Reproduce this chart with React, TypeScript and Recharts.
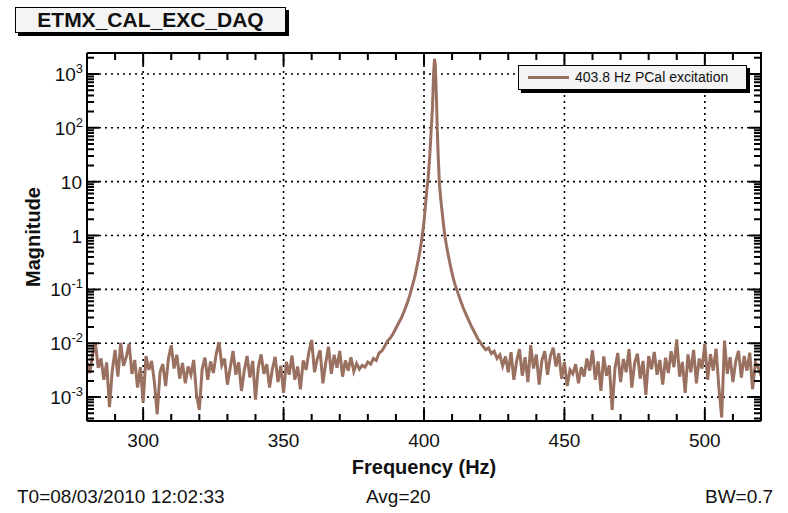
import { LineChart, Line, XAxis, YAxis, CartesianGrid } from "recharts";

// spectrum bins (Hz) and magnitude
const freqHz = [
  280, 281, 282, 283, 284, 285, 286, 287, 288, 289,
  290, 291, 292, 293, 294, 295, 296, 297, 298, 299,
  300, 301, 302, 303, 304, 305, 306, 307, 308, 309,
  310, 311, 312, 313, 314, 315, 316, 317, 318, 319,
  320, 321, 322, 323, 324, 325, 326, 327, 328, 329,
  330, 331, 332, 333, 334, 335, 336, 337, 338, 339,
  340, 341, 342, 343, 344, 345, 346, 347, 348, 349,
  350, 351, 352, 353, 354, 355, 356, 357, 358, 359,
  360, 361, 362, 363, 364, 365, 366, 367, 368, 369,
  370, 371, 372, 373, 374, 375, 376, 377, 378, 379,
  380, 381, 382, 383, 384, 385, 386, 387, 388, 389,
  390, 391, 392, 393, 394,
  395, 395.5, 396, 396.5, 397, 397.5, 398, 398.5, 399, 399.5,
  400, 400.5, 401, 401.5, 402, 402.5, 403, 403.25, 403.5, 403.75,
  404, 404.25, 404.5, 404.75, 405, 405.5, 406, 406.5, 407, 407.5,
  408, 408.5, 409, 409.5, 410, 410.5, 411, 411.5, 412,
  413, 414, 415, 416, 417, 418, 419,
  420, 421, 422, 423, 424, 425, 426, 427, 428, 429,
  430, 431, 432, 433, 434, 435, 436, 437, 438, 439,
  440, 441, 442, 443, 444, 445, 446, 447, 448, 449,
  450, 451, 452, 453, 454, 455, 456, 457, 458, 459,
  460, 461, 462, 463, 464, 465, 466, 467, 468, 469,
  470, 471, 472, 473, 474, 475, 476, 477, 478, 479,
  480, 481, 482, 483, 484, 485, 486, 487, 488, 489,
  490, 491, 492, 493, 494, 495, 496, 497, 498, 499,
  500, 501, 502, 503, 504, 505, 506, 507, 508, 509,
  510, 511, 512, 513, 514, 515, 516, 517, 518, 519,
  520,
];

const magnitude = [
  0.0045, 0.0028, 0.0062, 0.0098, 0.0035, 0.0052, 0.0021, 0.0044, 0.00065, 0.0031,
  0.0075, 0.0024, 0.0102, 0.0038, 0.0056, 0.0098, 0.0027, 0.0049, 0.0015, 0.0036,
  0.0008, 0.0058, 0.0032, 0.0047, 0.0019, 0.00048, 0.0029, 0.0041, 0.0016, 0.0052,
  0.0092, 0.0034, 0.0061, 0.0022, 0.0043, 0.0018, 0.0037, 0.0026, 0.0049, 0.0011,
  0.00058, 0.0033, 0.0054, 0.0021, 0.0046, 0.0028, 0.0063, 0.0105, 0.0039, 0.0052,
  0.0017, 0.0035, 0.0072, 0.0026, 0.0044, 0.0013, 0.0031, 0.0058, 0.0023, 0.0047,
  0.0009, 0.0036, 0.0062, 0.0027, 0.0041, 0.0015, 0.0033, 0.0056, 0.0019, 0.0038,
  0.0012, 0.0045, 0.0026, 0.0059, 0.0021, 0.0037, 0.0014, 0.0048, 0.0032, 0.0068,
  0.0115, 0.0029, 0.0051, 0.0074, 0.0018, 0.0043, 0.0086, 0.0027, 0.0061, 0.0035,
  0.0072, 0.0024, 0.0048, 0.0031, 0.0055, 0.003, 0.0042, 0.0033, 0.0039, 0.0036,
  0.0045, 0.0041, 0.0052, 0.0048, 0.0066, 0.0072, 0.0088, 0.011, 0.0125, 0.015,
  0.019, 0.024, 0.03, 0.04, 0.055,
  0.08, 0.1, 0.125, 0.155, 0.2, 0.27, 0.36, 0.5, 0.72, 1.1,
  1.8, 3.5, 7, 12, 28, 80, 230, 550, 1200, 1900,
  1500, 700, 250, 90, 35, 9, 4.5, 2.6, 1.5, 0.95,
  0.65, 0.47, 0.35, 0.26, 0.2, 0.155, 0.125, 0.105, 0.088,
  0.062, 0.045, 0.034, 0.026, 0.02, 0.016, 0.0125,
  0.0105, 0.0088, 0.0076, 0.0082, 0.0064, 0.0071, 0.0052, 0.0061, 0.0038, 0.0057,
  0.0029, 0.0068, 0.0021, 0.0047, 0.0078, 0.0025, 0.0055, 0.0019, 0.0092, 0.0034,
  0.0062, 0.0017, 0.0048, 0.0071, 0.0026, 0.0058, 0.0083, 0.0037, 0.0065, 0.0022,
  0.0045, 0.0016, 0.0032, 0.0027, 0.0041, 0.0018, 0.0036, 0.0024, 0.0052, 0.0031,
  0.0074, 0.0021, 0.0046, 0.0013, 0.0057, 0.0025, 0.0039, 0.00058, 0.0034, 0.0066,
  0.0019, 0.0051, 0.0029, 0.0078, 0.0015, 0.0043, 0.0064, 0.0022, 0.0047, 0.0011,
  0.0058, 0.0033, 0.0069, 0.0026, 0.0049, 0.0017, 0.0054, 0.0028, 0.0071, 0.0036,
  0.0118, 0.0024, 0.0045, 0.0012, 0.0062, 0.0029, 0.0075, 0.0018, 0.0052, 0.0034,
  0.0098, 0.0021, 0.0063, 0.0031, 0.0079, 0.0015, 0.00042, 0.0112, 0.0027, 0.0055,
  0.0019, 0.0046, 0.0072, 0.0023, 0.0058, 0.0031, 0.0067, 0.0014, 0.0044, 0.0036,
  0.0025,
];

const xTicks = [280, 290, 300, 310, 320, 330, 340, 350, 360, 370, 380, 390, 400,
  410, 420, 430, 440, 450, 460, 470, 480, 490, 500, 510, 520];
const xGridTicks = [300, 350, 400, 450, 500];

const yMajorTicks = [1e-3, 1e-2, 1e-1, 1, 10, 100, 1000];
const yMajorLabels = ["-3", "-2", "-1", "", "", "2", "3"];
const yMinorTicks = [
  4e-4, 5e-4, 6e-4, 7e-4, 8e-4, 9e-4,
  2e-3, 3e-3, 4e-3, 5e-3, 6e-3, 7e-3, 8e-3, 9e-3,
  2e-2, 3e-2, 4e-2, 5e-2, 6e-2, 7e-2, 8e-2, 9e-2,
  0.2, 0.3, 0.4, 0.5, 0.6, 0.7, 0.8, 0.9,
  2, 3, 4, 5, 6, 7, 8, 9,
  20, 30, 40, 50, 60, 70, 80, 90,
  200, 300, 400, 500, 600, 700, 800, 900,
  2000,
];

const chartData = freqHz.map((f, i) => ({ f, mag: magnitude[i] }));
const yTicks = [...yMinorTicks, ...yMajorTicks].sort((a, b) => a - b);

const LINE_COLOR = "#9a7060";
const FONT = "'Liberation Sans', Arial, sans-serif";

// plot frame size (px), used to mirror the ticks on the top and right edges
const PLOT_W = 674;
const PLOT_H = 368;

const majorIdx = (v: number) =>
  yMajorTicks.findIndex((m) => Math.abs(m - v) / m < 1e-6);

// ROOT style: ticks point into the frame, on all four sides
function BottomTick(props: any) {
  const { x, y, payload, index } = props;
  const v = payload.value;
  const major = v % 50 === 0;
  const len = major ? 12 : 7;
  return (
    <g>
      <path
        d={`M${x},${y}V${y - len}M${x},${y - PLOT_H}V${y - PLOT_H + len}`}
        stroke="#000"
        strokeWidth={2}
        fill="none"
      />
      {index === 0 && (
        <path
          d={`M${x},${y - PLOT_H}H${x + PLOT_W}V${y}`}
          stroke="#000"
          strokeWidth={2}
          fill="none"
        />
      )}
      {major && (
        <text x={x} y={y + 26} textAnchor="middle" fontSize={19} fill="#111" fontFamily={FONT}>
          {v}
        </text>
      )}
    </g>
  );
}

function LeftTick(props: any) {
  const { x, y, payload } = props;
  const idx = majorIdx(payload.value);
  const major = idx >= 0;
  const len = major ? 12 : 7;
  let label = null;
  if (major) {
    const v = payload.value;
    if (v === 1 || v === 10) {
      label = (
        <text x={x - 5} y={y + 7} textAnchor="end" fontSize={19} fill="#111" fontFamily={FONT}>
          {v}
        </text>
      );
    } else {
      label = (
        <text x={x - 4} y={y + 7} textAnchor="end" fontSize={19} fill="#111" fontFamily={FONT}>
          <tspan>10</tspan>
          <tspan dy={-8} fontSize={13}>{yMajorLabels[idx]}</tspan>
        </text>
      );
    }
  }
  return (
    <g>
      <path
        d={`M${x},${y}H${x + len}M${x + PLOT_W},${y}H${x + PLOT_W - len}`}
        stroke="#000"
        strokeWidth={2}
        fill="none"
      />
      {label}
    </g>
  );
}

const boxStyle: React.CSSProperties = {
  position: "absolute",
  background: "#f4f4f4",
  border: "1px solid #000",
  boxShadow: "3px 3px 0 #000",
  boxSizing: "border-box",
};

export default function App() {
  return (
    <div
      style={{
        position: "absolute",
        left: 0,
        top: 0,
        width: 788,
        height: 513,
        background: "#fff",
        overflow: "hidden",
        fontFamily: FONT,
        color: "#111",
      }}
    >
      <LineChart
        width={788}
        height={513}
        data={chartData}
        margin={{ top: 53, right: 27, bottom: 52, left: 27 }}
      >
        <CartesianGrid
          horizontalValues={yMajorTicks}
          verticalValues={xGridTicks}
          stroke="#000"
          strokeWidth={1.6}
          strokeDasharray="2 4"
        />
        <Line
          type="linear"
          dataKey="mag"
          stroke={LINE_COLOR}
          strokeWidth={3}
          dot={false}
          isAnimationActive={false}
        />
        <XAxis
          dataKey="f"
          type="number"
          domain={[280, 520]}
          allowDataOverflow
          ticks={xTicks}
          interval={0}
          tickSize={0}
          tickMargin={0}
          tick={BottomTick}
          height={40}
          axisLine={{ stroke: "#000", strokeWidth: 2 }}
        />
        <YAxis
          type="number"
          scale="log"
          domain={[3.6e-4, 2450]}
          allowDataOverflow
          ticks={yTicks}
          interval={0}
          tickSize={0}
          tickMargin={0}
          tick={LeftTick}
          width={60}
          axisLine={{ stroke: "#000", strokeWidth: 2 }}
        />
      </LineChart>

      {/* title pave */}
      <div
        style={{
          ...boxStyle,
          left: 15,
          top: 7,
          width: 271,
          height: 26,
          fontSize: 21,
          fontWeight: "bold",
          textAlign: "center",
          lineHeight: "24px",
        }}
      >
        ETMX_CAL_EXC_DAQ
      </div>

      {/* legend */}
      <div style={{ ...boxStyle, left: 518, top: 65, width: 229, height: 25 }}>
        <div
          style={{
            position: "absolute",
            left: 9,
            top: 10,
            width: 41,
            height: 3,
            background: LINE_COLOR,
          }}
        />
        <div style={{ position: "absolute", left: 56, top: 3, fontSize: 14, whiteSpace: "nowrap" }}>
          403.8 Hz PCal excitation
        </div>
      </div>

      {/* axis titles */}
      <div
        style={{
          position: "absolute",
          left: 33,
          top: 237,
          transform: "translate(-50%, -50%) rotate(-90deg)",
          fontSize: 20,
          fontWeight: "bold",
          whiteSpace: "nowrap",
        }}
      >
        Magnitude
      </div>
      <div
        style={{
          position: "absolute",
          left: 424,
          top: 467,
          transform: "translate(-50%, -50%)",
          fontSize: 20,
          fontWeight: "bold",
          whiteSpace: "nowrap",
        }}
      >
        Frequency (Hz)
      </div>

      {/* footer */}
      <div style={{ position: "absolute", left: 17, top: 486, fontSize: 19, whiteSpace: "nowrap" }}>
        T0=08/03/2010 12:02:33
      </div>
      <div style={{ position: "absolute", left: 366, top: 486, fontSize: 19, whiteSpace: "nowrap" }}>
        Avg=20
      </div>
      <div style={{ position: "absolute", left: 705, top: 486, fontSize: 19, whiteSpace: "nowrap" }}>
        BW=0.7
      </div>
    </div>
  );
}
